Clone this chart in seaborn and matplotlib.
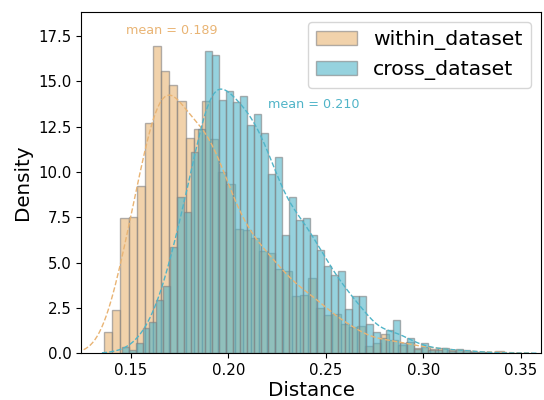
import numpy as np
import matplotlib
matplotlib.use('Agg')
import matplotlib.pyplot as plt
import seaborn as sns

# histogram densities, one value per bin
within_start, within_width = 0.1362, 0.004182
within_density = [1.19, 2.39, 7.48, 7.57, 9.28, 12.78, 17.06, 15.66, 14.89, 13.97,
                  11.95, 12.46, 13.97, 11.86, 10.07, 9.38, 6.89, 6.85, 6.40, 5.66,
                  5.57, 4.69, 4.56, 3.18, 3.22, 4.19, 2.48, 2.11, 2.20, 1.60,
                  1.47, 1.50, 0.40, 0.59, 1.05, 0.75, 0.45, 0.60, 0.30, 0.35,
                  0.25, 0.30, 0.15, 0.20, 0.10, 0.08, 0.05, 0.03, 0.12, 0.03]

cross_start, cross_width = 0.1452, 0.003575
cross_density = [0.33, 0.18, 0.59, 1.38, 1.74, 2.94, 3.73, 5.88, 8.69, 7.87,
                 11.16, 12.46, 16.77, 16.55, 14.06, 14.56, 13.97, 14.30, 12.68, 13.27,
                 12.21, 9.96, 10.90, 6.56, 8.68, 7.41, 7.50, 6.56, 5.74, 4.82,
                 4.36, 4.56, 2.44, 3.16, 3.16, 1.62, 1.16, 0.83, 1.29, 1.87,
                 0.59, 0.83, 0.22, 0.59, 0.20, 0.18, 0.31, 0.10, 0.22, 0.18,
                 0.09, 0.05, 0.04, 0.02, 0.02, 0.00, 0.02]

series_names = ['within_dataset', 'cross_dataset']
means = [0.189, 0.210]
colors = ['#E9B474', '#50B4C8']
# where the mean labels sit (data coords)
label_pos = [(0.1709, 17.78), (0.2439, 13.75)]

fig, ax = plt.subplots(figsize=(5.44, 4.0), dpi=100)
fig.subplots_adjust(left=0.149, right=0.9945, bottom=0.117, top=0.971)

series = [(within_start, within_width, within_density),
          (cross_start, cross_width, cross_density)]

for (start, width, dens), name, color in zip(series, series_names, colors):
    edges = start + width * np.arange(len(dens) + 1)
    centers = (edges[:-1] + edges[1:]) / 2
    sns.histplot(x=centers, weights=dens, bins=edges.tolist(), stat='density',
                 color=color, alpha=0.6, edgecolor=(0.5, 0.5, 0.5, 0.6),
                 linewidth=1, label=name, ax=ax)

for (start, width, dens), color in zip(series, colors):
    edges = start + width * np.arange(len(dens) + 1)
    centers = (edges[:-1] + edges[1:]) / 2
    sns.kdeplot(x=centers, weights=dens, bw_adjust=0.45, cut=1,
                color=color, linestyle='--', linewidth=1, ax=ax)

for m, color, (tx, ty) in zip(means, colors, label_pos):
    ax.text(tx, ty, f'mean = {m:.3f}', color=color, fontsize=9.2,
            ha='center', va='center')

ax.set_xlim(0.1244, 0.3603)
ax.set_ylim(0, 18.85)
ax.set_xlabel('Distance', fontsize=14.3, labelpad=2)
ax.set_ylabel('Density', fontsize=14.3)
ax.tick_params(labelsize=10.8)
ax.legend(loc='upper right', fontsize=14.7)

plt.savefig('out.png', dpi=100)
